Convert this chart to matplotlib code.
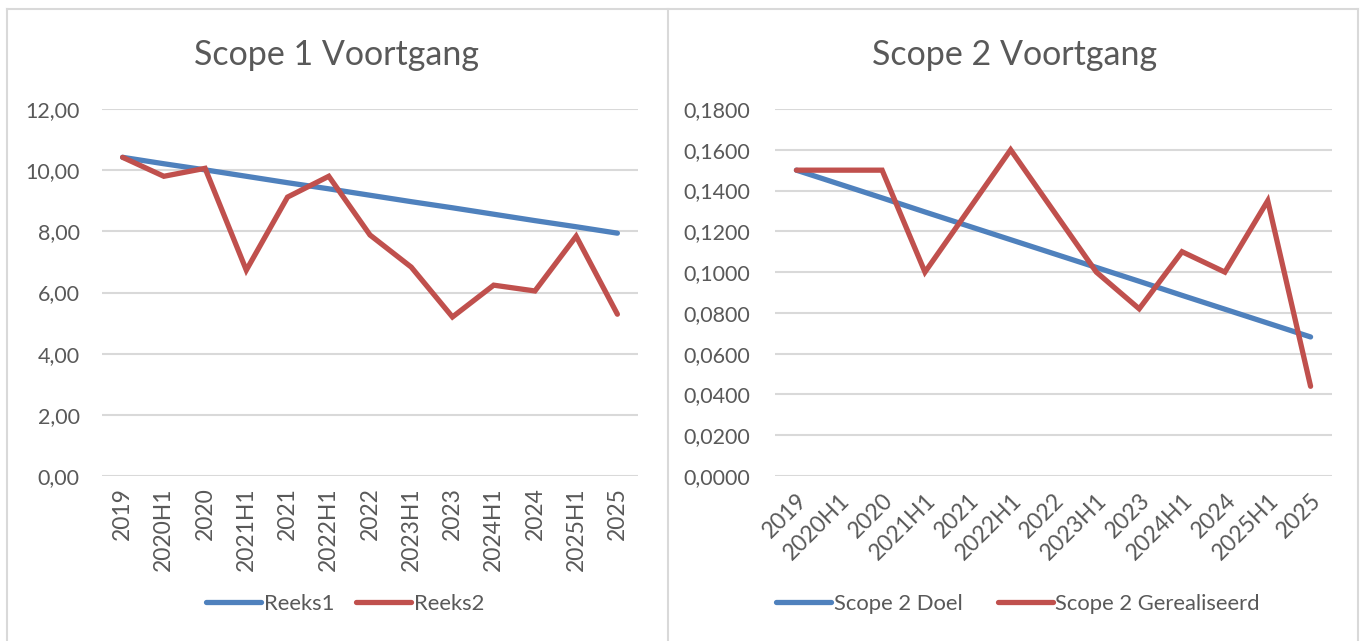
import matplotlib
matplotlib.use("Agg")
import matplotlib.pyplot as plt
from matplotlib.lines import Line2D
from matplotlib.ticker import FuncFormatter, MultipleLocator

plt.rcParams["font.family"] = ["Lato", "DejaVu Sans"]

categories = ["2019", "2020H1", "2020", "2021H1", "2021", "2022H1", "2022",
              "2023H1", "2023", "2024H1", "2024", "2025H1", "2025"]

# Scope 1
reeks1 = [10.42, 10.21, 10.01, 9.80, 9.59, 9.39, 9.18, 8.97, 8.77, 8.56, 8.35, 8.15, 7.94]
reeks2 = [10.42, 9.80, 10.06, 6.73, 9.12, 9.80, 7.88, 6.83, 5.20, 6.24, 6.05, 7.84, 5.29]

# Scope 2
scope2_doel = [0.1500, 0.1432, 0.1364, 0.1295, 0.1227, 0.1159, 0.1091,
               0.1023, 0.0955, 0.0886, 0.0818, 0.0750, 0.0682]
scope2_real = [0.150, 0.150, 0.150, 0.100, 0.130, 0.160, 0.130,
               0.100, 0.082, 0.110, 0.100, 0.135, 0.044]

BLUE = "#4F81BD"
RED = "#C0504D"
TXT = "#595959"
GRID = "#D9D9D9"

W, H = 1362, 641
fig = plt.figure(figsize=(W / 100, H / 100), dpi=100)


def fx(px):
    return px / W


def fy(py):
    return 1 - py / H


# chart borders
for xs, ys in [((7, 7), (9, 641)), ((668, 668), (9, 641)),
               ((1358, 1358), (9, 641)), ((7, 1358), (9, 9))]:
    fig.add_artist(Line2D([fx(x) for x in xs], [fy(y) for y in ys],
                          color=GRID, linewidth=1.5))


def style_axes(ax, fmt, step, top, ypad):
    ax.set_xlim(-0.5, len(categories) - 0.5)
    ax.set_ylim(0, top)
    ax.yaxis.set_major_locator(MultipleLocator(step))
    ax.yaxis.set_major_formatter(FuncFormatter(lambda v, p: fmt.format(v).replace(".", ",")))
    for s in ax.spines.values():
        s.set_visible(False)
    ax.grid(True, axis="y", color=GRID, linewidth=1.5)
    ax.set_axisbelow(True)
    ax.tick_params(axis="both", length=0, labelcolor=TXT)
    ax.tick_params(axis="y", pad=ypad, labelsize=15.5)
    ax.tick_params(axis="x", labelsize=16.5)
    ax.set_xticks(list(range(len(categories))))


x = range(len(categories))

# left chart
ax1 = fig.add_axes([fx(102), fy(476), fx(638 - 102), (476 - 109) / H])
style_axes(ax1, "{:.2f}", 2, 12, 16)
l1, = ax1.plot(x, reeks1, color=BLUE, linewidth=3.8, solid_capstyle="round", label="Reeks1")
l2, = ax1.plot(x, reeks2, color=RED, linewidth=3.8, solid_capstyle="round",
               solid_joinstyle="miter", label="Reeks2")
ax1.set_xticklabels(categories, rotation=90, va="top", ha="center")
ax1.tick_params(axis="x", pad=8)
fig.text(fx(337), fy(55), "Scope 1 Voortgang", ha="center", va="center",
         fontsize=24.5, color=TXT)
fig.legend(handles=[l1, l2], loc="center", bbox_to_anchor=(fx(345), fy(604)),
           ncol=2, frameon=False, fontsize=15.8, labelcolor=TXT,
           handlelength=2.5, handletextpad=0.12, columnspacing=1.0)

# right chart
ax2 = fig.add_axes([fx(775), fy(476), fx(1332 - 775), (476 - 109) / H])
style_axes(ax2, "{:.4f}", 0.02, 0.18, 18)
l3, = ax2.plot(x, scope2_doel, color=BLUE, linewidth=3.8, solid_capstyle="round",
               label="Scope 2 Doel")
l4, = ax2.plot(x, scope2_real, color=RED, linewidth=3.8, solid_capstyle="round",
               solid_joinstyle="miter", label="Scope 2 Gerealiseerd")
ax2.set_xticklabels(categories, rotation=45, ha="right", va="top", rotation_mode="anchor")
ax2.tick_params(axis="x", pad=10)
fig.text(fx(1015), fy(55), "Scope 2 Voortgang", ha="center", va="center",
         fontsize=24.5, color=TXT)
fig.legend(handles=[l3, l4], loc="center", bbox_to_anchor=(fx(1018), fy(604)),
           ncol=2, frameon=False, fontsize=15.8, labelcolor=TXT,
           handlelength=2.5, handletextpad=0.12, columnspacing=1.6)

fig.savefig("out.png", dpi=100, facecolor="white")
